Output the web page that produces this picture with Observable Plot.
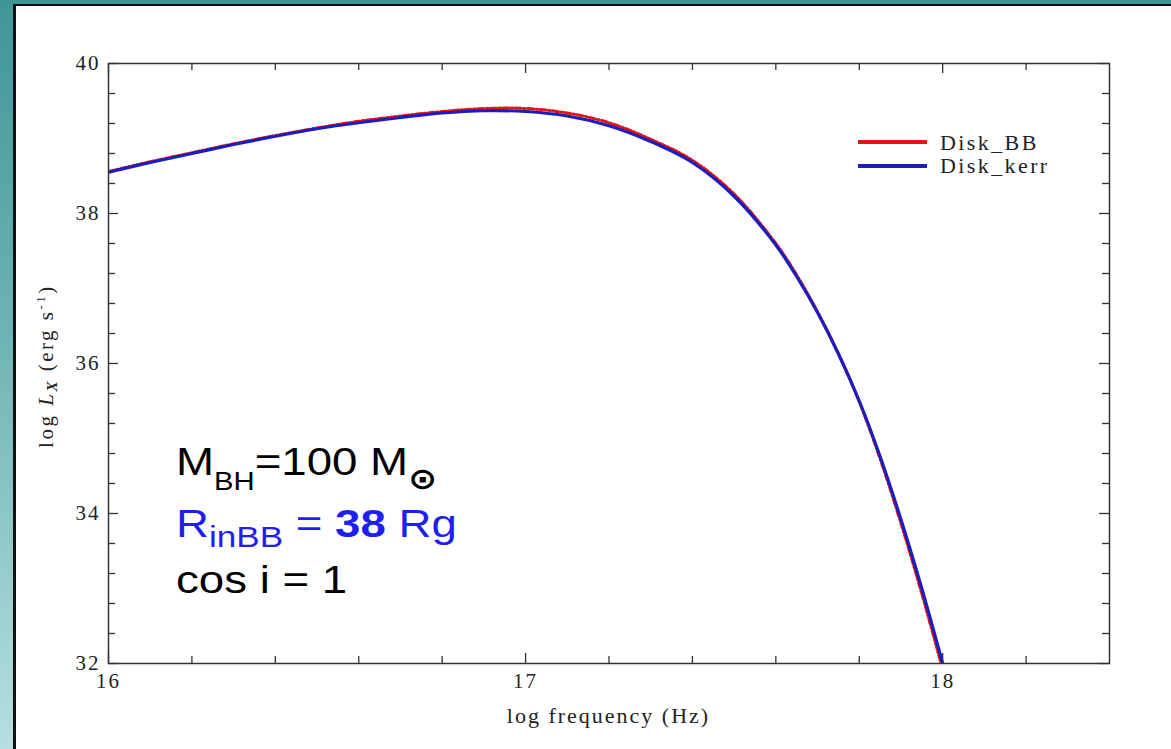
<!DOCTYPE html>
<html><head><meta charset="utf-8">
<script src="https://cdn.jsdelivr.net/npm/d3@7"></script>
<script src="https://cdn.jsdelivr.net/npm/@observablehq/plot@0.6"></script>
<style>
html,body{margin:0;padding:0;width:1171px;height:749px;overflow:hidden;}
body{background:linear-gradient(180deg,#3f9696 0%,#6fb4b4 45%,#b6dfdf 100%);position:relative;}
#panel{position:absolute;left:13px;top:4px;right:0;bottom:0;background:#fff;border-left:3px solid #111;border-top:2px solid #111;}
#chart{position:absolute;left:0;top:0;}
</style></head><body>
<div id="panel"></div><div id="chart"></div>
<script>
// log frequency (Hz)
const freq = [16.0,16.1,16.2,16.3,16.4,16.5,16.6,16.7,16.8,16.9,17.0,17.1,17.2,17.3,17.4,17.5,17.6,17.65,17.7,17.75,17.8,17.85,17.9,17.95,18.0];
// log Lx, Disk_BB (red, dash-dot)
const diskBB = [38.56,38.69,38.81,38.93,39.04,39.14,39.23,39.30,39.36,39.40,39.40,39.34,39.21,38.99,38.71,38.26,37.60,37.18,36.69,36.13,35.49,34.73,33.87,32.93,31.92];
// log Lx, Disk_kerr (blue, solid)
const diskKerr = [38.55,38.68,38.80,38.92,39.03,39.13,39.21,39.28,39.34,39.37,39.36,39.30,39.17,38.96,38.68,38.23,37.58,37.16,36.68,36.13,35.50,34.76,33.92,33.00,32.00];
const seriesNames = ["Disk_BB","Disk_kerr"];
const xTicksMajor = [16,17,18];
const xTicksMinor = [16.2,16.4,16.6,16.8,17.2,17.4,17.6,17.8,18.2];
const yTicksMajor = [32,34,36,38,40];
const yTicksMinor = [32.4,32.8,33.2,33.6,34.4,34.8,35.2,35.6,36.4,36.8,37.2,37.6,38.4,38.8,39.2,39.6];

const rows = freq.map((f,i)=>({f, bb: diskBB[i], kerr: diskKerr[i]}));
const W = 1171, H = 749, mt = 63, mb = 86, ml = 108, mr = 62;
const ih = H - mt - mb, iw = W - ml - mr;
const RED = "#e31414", BLUE = "#1d1dbd", AX = "#333";
const majL = 10, minL = 7;

const plot = Plot.plot({
  width: W, height: H,
  marginTop: mt, marginBottom: mb, marginLeft: ml, marginRight: mr,
  x: {domain: [16, 18.4]},
  y: {domain: [32, 40]},
  style: {background: "transparent", fontFamily: "'Liberation Serif','Times New Roman',serif", fontSize: "21px", color: "#222", overflow: "visible"},
  marks: [
    Plot.axisX(xTicksMajor, {anchor: "bottom", tickSize: 0, tickPadding: 10, label: null, fontSize: 21, tickFormat: d => String(d)}),
    Plot.axisY(yTicksMajor, {anchor: "left", tickSize: 0, tickPadding: 8, label: null, fontSize: 21, tickFormat: d => String(d)}),
    // inward ticks: bottom, top
    Plot.tickX(xTicksMajor, {x: d => d, insetTop: ih - majL, stroke: AX, strokeWidth: 1.3}),
    Plot.tickX(xTicksMinor, {x: d => d, insetTop: ih - minL, stroke: AX, strokeWidth: 1.3}),
    Plot.tickX(xTicksMajor, {x: d => d, insetBottom: ih - majL, stroke: AX, strokeWidth: 1.3}),
    Plot.tickX(xTicksMinor, {x: d => d, insetBottom: ih - minL, stroke: AX, strokeWidth: 1.3}),
    // inward ticks: left, right
    Plot.tickY(yTicksMajor, {y: d => d, insetRight: iw - majL, stroke: AX, strokeWidth: 1.3}),
    Plot.tickY(yTicksMinor, {y: d => d, insetRight: iw - minL, stroke: AX, strokeWidth: 1.3}),
    Plot.tickY(yTicksMajor, {y: d => d, insetLeft: iw - majL, stroke: AX, strokeWidth: 1.3}),
    Plot.tickY(yTicksMinor, {y: d => d, insetLeft: iw - minL, stroke: AX, strokeWidth: 1.3}),
    Plot.line(rows, {x: "f", y: "bb", stroke: RED, strokeWidth: 3, strokeDasharray: "6,2.5,1.5,2.5", curve: "catmull-rom", clip: true}),
    Plot.line(rows, {x: "f", y: "kerr", stroke: BLUE, strokeWidth: 3.2, curve: "catmull-rom", clip: true}),
    Plot.frame({stroke: AX, strokeWidth: 1.5})
  ]
});
document.getElementById("chart").appendChild(plot);

const svg = d3.select(plot);
const serif = "'Liberation Serif','Times New Roman',serif";

// widen tick labels like the (horizontally stretched) original
svg.selectAll('g[aria-label="x-axis tick label"], g[aria-label="y-axis tick label"]')
  .attr("font-size", 21).attr("letter-spacing", "2px");
svg.selectAll('g[aria-label="x-axis tick label"] text, g[aria-label="y-axis tick label"] text')
  .attr("font-size", 21).attr("letter-spacing", "2px");

// x axis label
svg.append("text").attr("x", ml + iw / 2).attr("y", 723).attr("text-anchor", "middle")
  .attr("font-family", serif).attr("font-size", 22).attr("letter-spacing", "2px").attr("fill", "#222")
  .text("log frequency (Hz)");

// y axis label
const yl = svg.append("text").attr("transform", "translate(53,366) rotate(-90)").attr("text-anchor", "middle")
  .attr("font-family", serif).attr("font-size", 21).attr("letter-spacing", "2.5px").attr("fill", "#222");
yl.append("tspan").text("log ");
yl.append("tspan").attr("font-style", "italic").text("L");
yl.append("tspan").attr("font-style", "italic").attr("font-weight", "bold").attr("font-size", 15).attr("dy", 4).text("X");
yl.append("tspan").attr("dy", -4).text(" (erg s");
yl.append("tspan").attr("font-size", 13).attr("dy", -8).text("-1");
yl.append("tspan").attr("dy", 8).text(")");

// legend
const lg = svg.append("g").attr("font-family", serif).attr("font-size", 22).attr("letter-spacing", "2.4px")
  .attr("fill", "#222").attr("text-anchor", "start");
[[seriesNames[0], RED, 142, 150], [seriesNames[1], BLUE, 166, 173]].forEach(([name, col, ly, ty]) => {
  lg.append("line").attr("x1", 858).attr("x2", 927).attr("y1", ly).attr("y2", ly).attr("stroke", col).attr("stroke-width", 4);
  lg.append("text").attr("x", 940).attr("y", ty).attr("text-anchor", "start").text(name);
});

// annotation
const ann = svg.append("g").attr("transform", "translate(176,0) scale(1.17,1)")
  .attr("font-family", "'Liberation Sans',Arial,sans-serif").attr("text-anchor", "start");
const t1 = ann.append("text").attr("x", 0).attr("y", 475).attr("font-size", 39).attr("fill", "#000").attr("text-anchor", "start");
t1.append("tspan").text("M");
t1.append("tspan").attr("font-size", 25).attr("dy", 15).text("BH");
t1.append("tspan").attr("dy", -15).text("=100 M");
t1.append("tspan").attr("font-size", 30).attr("font-weight", "bold").attr("font-family", "'DejaVu Sans',sans-serif").attr("dy", 14).text("\u2299");
const t2 = ann.append("text").attr("x", 0).attr("y", 537).attr("font-size", 39).attr("fill", "#1f1ff0").attr("text-anchor", "start");
t2.append("tspan").text("R");
t2.append("tspan").attr("font-size", 30).attr("dy", 10).text("inBB");
t2.append("tspan").attr("dy", -10).text(" = ");
t2.append("tspan").attr("font-weight", "bold").text("38");
t2.append("tspan").text(" Rg");
ann.append("text").attr("x", 0).attr("y", 593).attr("font-size", 39).attr("fill", "#000").attr("text-anchor", "start").text("cos i = 1");
</script>
</body></html>
